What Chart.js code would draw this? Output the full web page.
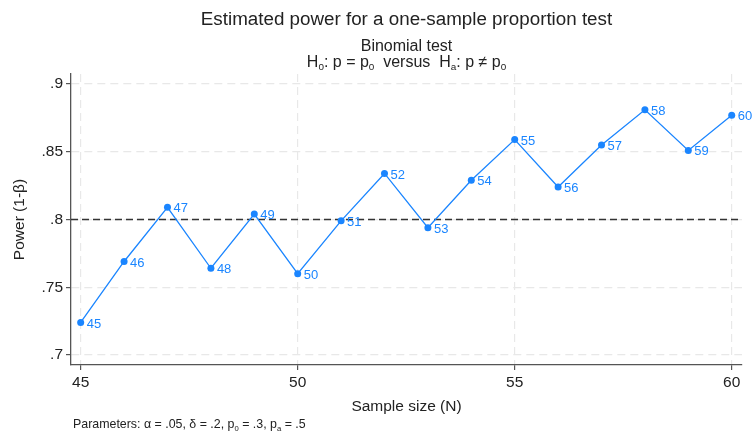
<!DOCTYPE html>
<html><head><meta charset="utf-8">
<script src="https://cdn.jsdelivr.net/npm/chart.js@4"></script>
<style>html,body{margin:0;padding:0;background:#fff}#wrap{width:752px;height:432px;position:relative}</style>
</head><body><div id="wrap"><canvas id="c" width="752" height="432"></canvas></div>
<script>
const sampleSizes = [45,46,47,48,49,50,51,52,53,54,55,56,57,58,59,60];
const powerValues = [0.724,0.769,0.809,0.764,0.804,0.760,0.799,0.834,0.794,0.829,0.859,0.824,0.855,0.881,0.851,0.877];
const yTicks = [0.7,0.75,0.8,0.85,0.9];
const yTickLabels = ['.7','.75','.8','.85','.9'];
const xTicks = [45,50,55,60];
const targetPower = 0.8;
const yRange = [0.6926, 0.9074];
const xRange = [44.777, 60.237];

const FONT = "'Liberation Sans', Arial, Helvetica, sans-serif";
const BLUE = '#1a85ff';
const AXIS = '#555555';
const GRID = '#e8e8e8';

function richText(ctx, segs, cx, cy, size, align) {
  const subSize = size * 0.62;
  let total = 0;
  segs.forEach(s => {
    ctx.font = (s.sub ? subSize : size) + 'px ' + FONT;
    s.w = ctx.measureText(s.t).width;
    total += s.w;
  });
  let x = align === 'left' ? cx : cx - total / 2;
  ctx.textAlign = 'left';
  ctx.textBaseline = 'alphabetic';
  segs.forEach(s => {
    ctx.font = (s.sub ? subSize : size) + 'px ' + FONT;
    ctx.fillText(s.t, x, cy + size * 0.36 + (s.sub ? size * 0.18 : 0));
    x += s.w;
  });
}

const textPlugin = {
  id: 'texts',
  beforeDatasetsDraw(chart) {
    const {ctx, chartArea, scales} = chart;
    const y = scales.y.getPixelForValue(targetPower);
    ctx.save();
    ctx.strokeStyle = '#333333';
    ctx.lineWidth = 1.6;
    ctx.setLineDash([7, 4]);
    ctx.beginPath();
    ctx.moveTo(chartArea.left, y);
    ctx.lineTo(chartArea.right, y);
    ctx.stroke();
    ctx.restore();
  },
  afterDatasetsDraw(chart) {
    const {ctx} = chart;
    const meta = chart.getDatasetMeta(0);
    ctx.save();
    ctx.fillStyle = BLUE;
    ctx.font = '13px ' + FONT;
    ctx.textAlign = 'left';
    ctx.textBaseline = 'middle';
    meta.data.forEach((pt, i) => {
      ctx.fillText(String(sampleSizes[i]), pt.x + 6, pt.y + 1.5);
    });
    ctx.restore();
  },
  afterDraw(chart) {
    const {ctx, chartArea} = chart;
    const cx = (chartArea.left + chartArea.right) / 2;
    ctx.save();
    ctx.fillStyle = '#222222';
    richText(ctx, [{t:'Estimated power for a one-sample proportion test'}], cx, 18, 18.8);
    richText(ctx, [{t:'Binomial test'}], cx, 45, 16);
    richText(ctx, [{t:'H'},{t:'0',sub:true},{t:': p = p'},{t:'0',sub:true},{t:'  versus  H'},{t:'a',sub:true},{t:': p \u2260 p'},{t:'0',sub:true}], cx, 61, 16);
    richText(ctx, [{t:'Sample size (N)'}], cx, 405, 15.5);
    richText(ctx, [{t:'Parameters: \u03b1 = .05, \u03b4 = .2, p'},{t:'0',sub:true},{t:' = .3, p'},{t:'a',sub:true},{t:' = .5'}], 73, 424, 12.4, 'left');
    ctx.translate(18, (chartArea.top + chartArea.bottom) / 2);
    ctx.rotate(-Math.PI / 2);
    richText(ctx, [{t:'Power (1-\u03b2)'}], 0, 0, 15.5);
    ctx.restore();
  }
};

new Chart(document.getElementById('c'), {
  type: 'line',
  data: {
    datasets: [{
      data: sampleSizes.map((n, i) => ({x: n, y: powerValues[i]})),
      borderColor: BLUE,
      backgroundColor: BLUE,
      borderWidth: 1.3,
      pointRadius: 3.5,
      pointHoverRadius: 3.5,
      pointBorderWidth: 0,
      tension: 0
    }]
  },
  options: {
    responsive: false,
    animation: false,
    devicePixelRatio: 1,
    layout: {padding: {top: 74, right: 10, left: 0, bottom: 0}},
    plugins: {legend: {display: false}, tooltip: {enabled: false}, title: {display: false}},
    scales: {
      x: {
        type: 'linear',
        min: xRange[0], max: xRange[1],
        afterBuildTicks: s => { s.ticks = xTicks.map(v => ({value: v})); },
        afterFit: s => { s.height = 67; },
        ticks: {font: {family: FONT, size: 15.5}, color: '#222222', padding: 3, maxRotation: 0, autoSkip: false,
                callback: v => String(v)},
        grid: {color: GRID, lineWidth: 1.2, tickColor: AXIS, tickLength: 5, tickWidth: 1.2},
        border: {color: AXIS, width: 1.3, dash: [8, 5]}
      },
      y: {
        type: 'linear',
        min: yRange[0], max: yRange[1],
        afterBuildTicks: s => { s.ticks = yTicks.map(v => ({value: v})); },
        afterFit: s => { s.width = 71; },
        ticks: {font: {family: FONT, size: 15.5}, color: '#222222', padding: 3, autoSkip: false,
                callback: (v) => { const i = yTicks.findIndex(t => Math.abs(t - v) < 1e-9); return i >= 0 ? yTickLabels[i] : ''; }},
        grid: {color: GRID, lineWidth: 1.2, tickColor: AXIS, tickLength: 5, tickWidth: 1.2},
        border: {color: AXIS, width: 1.3, dash: [8, 5]}
      }
    }
  },
  plugins: [textPlugin]
});
</script></body></html>
